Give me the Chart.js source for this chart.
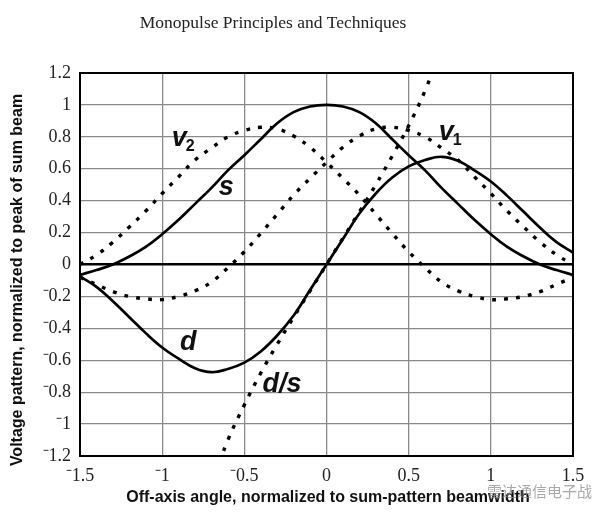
<!DOCTYPE html>
<html><head><meta charset="utf-8">
<script src="https://cdn.jsdelivr.net/npm/chart.js@4/dist/chart.umd.min.js"></script>
<style>html,body{margin:0;padding:0;background:#fff;}canvas{display:block}</style>
</head><body>
<canvas id="c" width="605" height="522"></canvas>
<script>
// ---- data ----
const xVals = [-1.5,-1.4,-1.3,-1.2,-1.1,-1.0,-0.9,-0.8,-0.7,-0.6,-0.5,-0.4,-0.3,-0.2,-0.1,0,0.1,0.2,0.3,0.4,0.5,0.6,0.7,0.8,0.9,1.0,1.1,1.2,1.3,1.4,1.5];
const sVals = [-0.065,-0.035,0.0,0.05,0.11,0.19,0.28,0.38,0.48,0.59,0.685,0.785,0.885,0.955,0.99,1.0,0.99,0.955,0.885,0.785,0.685,0.59,0.48,0.38,0.28,0.19,0.11,0.05,0.0,-0.035,-0.065];
const dVals = [-0.075,-0.14,-0.23,-0.33,-0.43,-0.52,-0.59,-0.65,-0.675,-0.655,-0.615,-0.545,-0.445,-0.32,-0.16,0,0.16,0.32,0.445,0.545,0.615,0.655,0.675,0.65,0.59,0.52,0.43,0.33,0.23,0.14,0.075];
const v1Vals = [-0.08,-0.125,-0.17,-0.20,-0.215,-0.22,-0.20,-0.165,-0.11,-0.02,0.08,0.195,0.315,0.435,0.54,0.64,0.735,0.805,0.85,0.86,0.84,0.80,0.73,0.655,0.55,0.445,0.335,0.235,0.14,0.06,0.0];
const v2Vals = [0.0,0.06,0.14,0.235,0.335,0.445,0.55,0.655,0.73,0.80,0.84,0.86,0.85,0.805,0.735,0.64,0.54,0.435,0.315,0.195,0.08,-0.02,-0.11,-0.165,-0.20,-0.22,-0.215,-0.20,-0.17,-0.125,-0.08];
const dsX = [-0.7,-0.6,-0.5,-0.4,-0.3,-0.2,-0.1,0,0.1,0.2,0.3,0.4,0.5,0.6,0.7];
const dsVals = [-1.38,-1.10,-0.88,-0.68,-0.50,-0.33,-0.165,0,0.165,0.33,0.50,0.68,0.87,1.09,1.36];
const xTickStep = 0.5, yTickStep = 0.2;
const xMin = -1.5, xMax = 1.5, yMin = -1.2, yMax = 1.2;
const titleText = 'Monopulse Principles and Techniques';
const xTitle = 'Off-axis angle, normalized to sum-pattern beamwidth';
const yTitle = 'Voltage pattern, normalized to peak of sum beam';
const seriesLabels = [
  {text:'v', sub:'2', x:-0.896, y:0.789},
  {text:'v', sub:'1', x:0.728, y:0.826},
  {text:'s', sub:'', x:-0.61, y:0.48},
  {text:'d', sub:'', x:-0.842, y:-0.489},
  {text:'d/s', sub:'', x:-0.27, y:-0.75}
];
const watermark = '雷达通信电子战';

const zip = (xs, ys) => xs.map((x,i)=>({x, y:ys[i]}));
const solid = {borderColor:'#000', borderWidth:2.7, pointRadius:0, tension:0.4, fill:false};
const dotted = {borderColor:'#000', borderWidth:3.4, borderDash:[3.8,8.2], borderCapStyle:'butt', pointRadius:0, tension:0.4, fill:false};

function fmt(v){
  const r = Math.round(v*10)/10;
  if (Math.abs(r) < 1e-9) return '0';
  const s = String(Math.abs(r));
  return (r < 0 ? '\u207B' : '') + s;
}

const deco = {
  id:'deco',
  beforeDatasetsDraw(chart){
    const {ctx, chartArea:a} = chart;
    ctx.save();
    ctx.strokeStyle = '#000'; ctx.lineWidth = 2;
    ctx.strokeRect(a.left, a.top, a.right-a.left, a.bottom-a.top);
    ctx.restore();
  },
  afterDatasetsDraw(chart){
    const {ctx, scales:{x, y}} = chart;
    ctx.save();
    ctx.fillStyle = '#111';
    ctx.textBaseline = 'middle';
    for (const L of seriesLabels){
      const px = x.getPixelForValue(L.x), py = y.getPixelForValue(L.y);
      ctx.font = 'italic bold 27px "Liberation Sans", Arial, sans-serif';
      ctx.textAlign = 'center';
      ctx.fillText(L.text, px, py);
      if (L.sub){
        const w = ctx.measureText(L.text).width;
        ctx.font = 'bold 16px "Liberation Sans", Arial, sans-serif';
        ctx.textAlign = 'left';
        ctx.fillText(L.sub, px + w/2 - 1, py + 8);
      }
    }
    ctx.restore();
  },
  afterDraw(chart){
    const {ctx} = chart;
    ctx.save();
    ctx.fillStyle = '#222';
    ctx.textAlign = 'center'; ctx.textBaseline = 'middle';
    ctx.font = '17.5px "Liberation Serif", "Times New Roman", serif';
    ctx.fillText(titleText, 273, 23);
    ctx.fillStyle = '#111';
    ctx.font = 'bold 16px "Liberation Sans", Arial, sans-serif';
    ctx.fillText(xTitle, 328, 498);
    ctx.translate(17.5, 280);
    ctx.rotate(-Math.PI/2);
    ctx.fillText(yTitle, 0, 0);
    ctx.restore();
    ctx.save();
    ctx.fillStyle = 'rgba(140,140,140,0.75)';
    ctx.font = '15px "Noto Sans CJK SC", sans-serif';
    ctx.textAlign = 'left'; ctx.textBaseline = 'middle';
    ctx.fillText(watermark, 487, 491);
    ctx.restore();
  }
};

new Chart(document.getElementById('c'), {
  type:'line',
  data:{ datasets:[
    Object.assign({label:'s', data:zip(xVals, sVals)}, solid),
    Object.assign({label:'d', data:zip(xVals, dVals)}, solid),
    Object.assign({label:'v1', data:zip(xVals, v1Vals)}, dotted),
    Object.assign({label:'v2', data:zip(xVals, v2Vals)}, dotted),
    Object.assign({label:'d/s', data:zip(dsX, dsVals)}, dotted)
  ]},
  options:{
    responsive:false, animation:false, devicePixelRatio:1,
    layout:{padding:{top:73, right:32, left:0, bottom:0}},
    plugins:{legend:{display:false}, tooltip:{enabled:false}, title:{display:false}},
    scales:{
      x:{type:'linear', min:xMin, max:xMax,
        ticks:{stepSize:xTickStep, callback:v=>fmt(v), color:'#222', padding:9,
          font:{family:'"Liberation Serif", "Times New Roman", serif', size:18}, maxRotation:0, autoSkip:false},
        grid:{drawTicks:false, color:'#8a8a8a', lineWidth:1.3},
        border:{display:true, color:'#000', width:2},
        afterFit(s){ s.height = 66; }
      },
      y:{type:'linear', min:yMin, max:yMax,
        ticks:{stepSize:yTickStep, callback:v=>fmt(v), color:'#222', padding:9,
          font:{family:'"Liberation Serif", "Times New Roman", serif', size:18}, autoSkip:false},
        grid:{drawTicks:false,
          color:c=> (c.tick && Math.abs(c.tick.value)<1e-9) ? '#000' : '#8a8a8a',
          lineWidth:c=> (c.tick && Math.abs(c.tick.value)<1e-9) ? 2.6 : 1.3},
        border:{display:true, color:'#000', width:2},
        afterFit(s){ s.width = 80; }
      }
    }
  },
  plugins:[deco]
});
</script>
</body></html>
